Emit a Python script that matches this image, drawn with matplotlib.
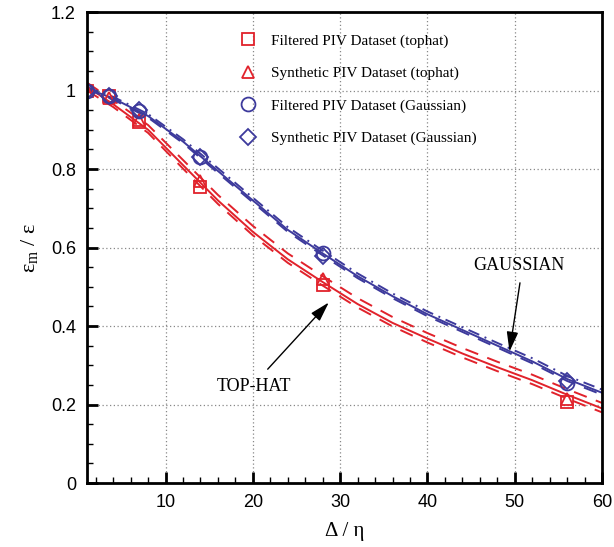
import matplotlib
matplotlib.use("Agg")
import matplotlib.pyplot as plt
from matplotlib.lines import Line2D
from matplotlib.ticker import MultipleLocator

# measured points
x_pts = [1, 3.5, 7, 14, 28, 56]
filt_top = [1.0, 0.985, 0.92, 0.755, 0.505, 0.206]
synth_top = [1.0, 0.98, 0.925, 0.77, 0.52, 0.215]
filt_gauss = [1.0, 0.985, 0.949, 0.83, 0.587, 0.255]
synth_gauss = [1.0, 0.985, 0.95, 0.83, 0.578, 0.26]

# model curves
x_curve = [1, 4, 8, 12, 16, 20, 24, 28, 32, 36, 40, 44, 48, 52, 56, 60]
red_mid = [1.01, 0.965, 0.9, 0.81, 0.72, 0.64, 0.57, 0.512, 0.456, 0.408, 0.368, 0.33, 0.295, 0.262, 0.225, 0.19]
red_hi = [1.02, 0.975, 0.912, 0.823, 0.734, 0.655, 0.585, 0.527, 0.471, 0.423, 0.382, 0.344, 0.309, 0.276, 0.239, 0.204]
red_lo = [1.0, 0.958, 0.892, 0.801, 0.711, 0.631, 0.561, 0.503, 0.447, 0.399, 0.358, 0.32, 0.285, 0.252, 0.215, 0.18]
blue_mid = [1.005, 0.98, 0.935, 0.87, 0.795, 0.72, 0.645, 0.585, 0.527, 0.476, 0.43, 0.39, 0.35, 0.31, 0.265, 0.23]
blue_hi = [1.008, 0.984, 0.94, 0.876, 0.802, 0.727, 0.652, 0.592, 0.534, 0.483, 0.437, 0.397, 0.357, 0.318, 0.273, 0.238]
blue_lo = [1.003, 0.977, 0.931, 0.866, 0.79, 0.715, 0.64, 0.58, 0.522, 0.471, 0.425, 0.385, 0.345, 0.305, 0.26, 0.225]

RED = "#e1222b"
BLUE = "#3d3a9c"
SERIF = "Liberation Serif"
SANS = "Liberation Sans"

plt.rcParams["mathtext.fontset"] = "custom"
plt.rcParams["mathtext.rm"] = SERIF
plt.rcParams["mathtext.it"] = SERIF + ":italic"

fig = plt.figure(figsize=(6.14, 5.47), dpi=100)
ax = fig.add_axes([0.1417, 0.117, 0.8388, 0.861])

# curves
ax.plot(x_curve, red_mid, "-", color=RED, lw=1.4)
ax.plot(x_curve, red_hi, color=RED, lw=1.4, dashes=(7, 5))
ax.plot(x_curve, red_lo, color=RED, lw=1.4, dashes=(7, 5))
ax.plot(x_curve, blue_mid, "-", color=BLUE, lw=1.4)
ax.plot(x_curve, blue_hi, color=BLUE, lw=1.4, dashes=(6, 3, 1, 3))
ax.plot(x_curve, blue_lo, color=BLUE, lw=1.4, dashes=(7, 5))

# markers
mk = dict(ls="none", mfc="none", mew=1.3)
ax.plot(x_pts, filt_top, marker="s", ms=8, mec=RED, **mk)
ax.plot(x_pts, synth_top, marker="^", ms=9, mec=RED, **mk)
ax.plot(x_pts, filt_gauss, marker="o", ms=10, mec=BLUE, **mk)
ax.plot(x_pts, synth_gauss, marker="D", ms=8, mec=BLUE, **mk)

ax.set_xlim(1, 60)
ax.set_ylim(0, 1.2)
ax.xaxis.set_minor_locator(MultipleLocator(2))
ax.yaxis.set_minor_locator(MultipleLocator(0.05))
ax.set_xticks([10, 20, 30, 40, 50, 60])
ax.set_xticklabels(["10", "20", "30", "40", "50", "60"])
ax.set_yticks([0, 0.2, 0.4, 0.6, 0.8, 1.0, 1.2])
ax.set_yticklabels(["0", "0.2", "0.4", "0.6", "0.8", "1", "1.2"])

ax.grid(True, which="major", ls=(0, (1, 2)), color="#888888", lw=0.9)
ax.tick_params(which="both", direction="in", top=False, right=False)
ax.tick_params(which="major", length=8, width=2, labelsize=13, pad=8)
ax.tick_params(which="minor", length=4, width=1)
for lab in ax.get_xticklabels() + ax.get_yticklabels():
    lab.set_fontfamily(SANS)
for sp in ax.spines.values():
    sp.set_linewidth(2)

ax.set_xlabel("Δ / η", family=SERIF, fontsize=15, labelpad=8)
ax.set_ylabel(r"$\mathrm{ε_m}$ / ε", family=SERIF, fontsize=16, labelpad=8)

# legend
handles = [
    Line2D([], [], marker="s", ms=8, mec=RED, **mk),
    Line2D([], [], marker="^", ms=9, mec=RED, **mk),
    Line2D([], [], marker="o", ms=10, mec=BLUE, **mk),
    Line2D([], [], marker="D", ms=8, mec=BLUE, **mk),
]
labels = [
    "Filtered PIV Dataset (tophat)",
    "Synthetic PIV Dataset (tophat)",
    "Filtered PIV Dataset (Gaussian)",
    "Synthetic PIV Dataset (Gaussian)",
]
fig.legend(handles, labels, loc="upper left", bbox_to_anchor=(0.376, 0.952),
           frameon=False, prop={"family": SERIF, "size": 11},
           handlelength=1.2, handletextpad=0.9, labelspacing=1.22, borderpad=0)

# annotations
arrow = dict(arrowstyle="-|>,head_length=1.2,head_width=0.35", color="black", lw=1,
             shrinkA=0, shrinkB=0)
ax.annotate("", xy=(28.7, 0.46), xytext=(21.7, 0.29), arrowprops=arrow)
ax.text(20.1, 0.245, "TOP-HAT", family=SERIF, fontsize=13, ha="center", va="center")
ax.annotate("", xy=(49.4, 0.335), xytext=(50.6, 0.51), arrowprops=arrow)
ax.text(50.5, 0.555, "GAUSSIAN", family=SERIF, fontsize=13, ha="center", va="center")

fig.savefig("out.png", dpi=100)
